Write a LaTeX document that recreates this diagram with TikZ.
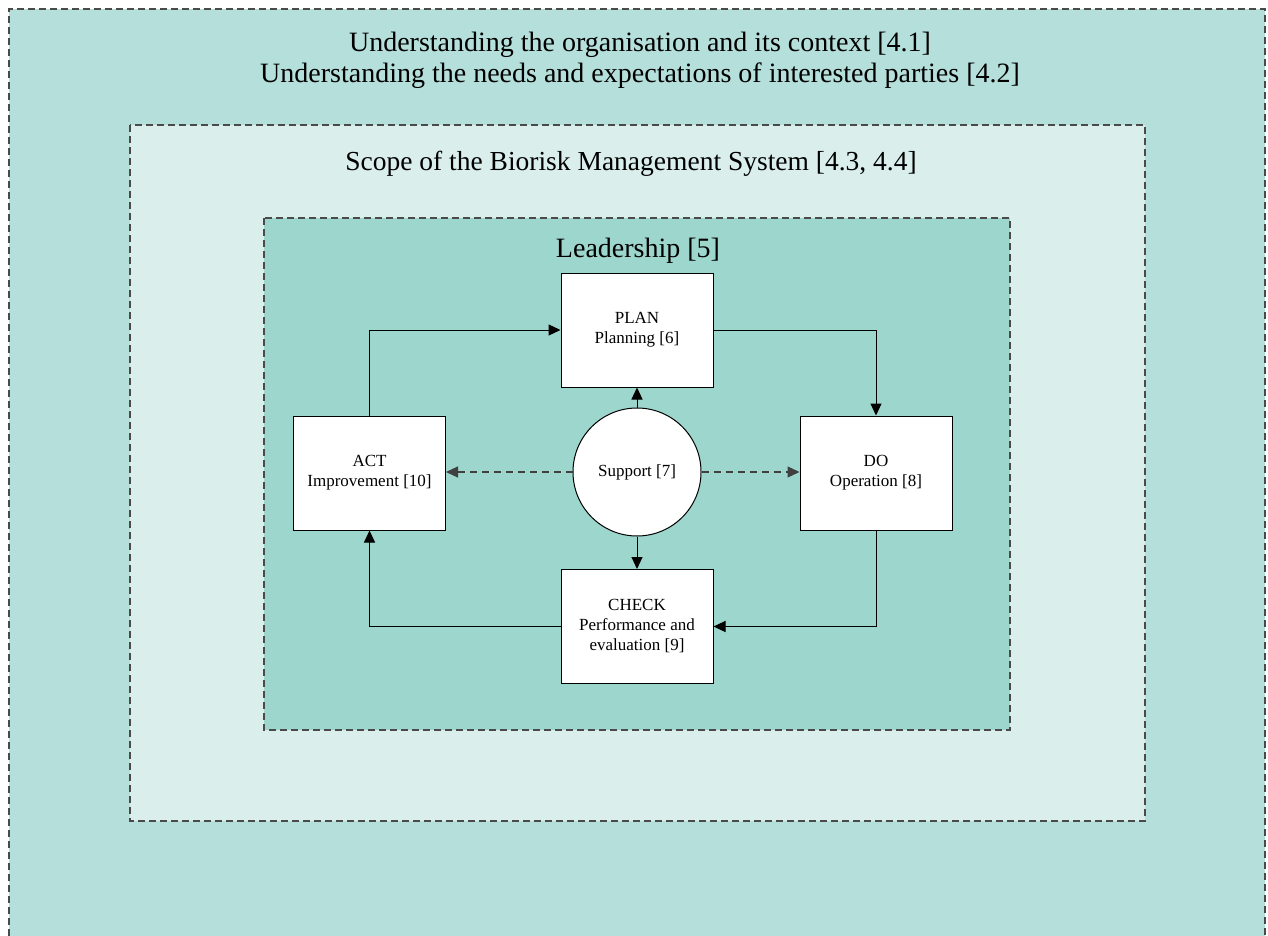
\documentclass[tikz,border=0pt]{standalone}
\usepackage{fontspec}
\setmainfont{Liberation Serif}
\usetikzlibrary{arrows.meta,calc}
\definecolor{outerfill}{HTML}{B4DFDB}
\definecolor{midfill}{HTML}{DAEFEC}
\definecolor{innerfill}{HTML}{9DD6CD}
\definecolor{bordergrey}{HTML}{4A4A4A}
\begin{document}
\begin{tikzpicture}[x=1pt,y=-1pt,
  frame/.style={draw=bordergrey, dash pattern=on 7pt off 4pt, line width=1.3pt},
  stepbox/.style={draw=black, fill=white, line width=1pt, minimum width=152pt, minimum height=114pt, align=center, font=\fontsize{17}{20}\selectfont},
  flow/.style={draw=black, line width=1pt, -{Triangle[length=12pt,width=11pt]}},
  dflow/.style={draw=black!75, line width=1.3pt, dash pattern=on 7pt off 5pt, -{Triangle[length=12pt,width=11pt]}}
]
\useasboundingbox (0,0) rectangle (1268,936);
% frames
\fill[outerfill] (9,9) rectangle (1265,936);
\draw[frame] (9,936) -- (9,9) -- (1265,9) -- (1265,936);
\draw[frame, fill=midfill] (130,125) rectangle (1145,821);
\draw[frame, fill=innerfill] (264,218) rectangle (1010,730);
% titles
\node[font=\fontsize{28}{31}\selectfont, align=center] (title) at (640,60) {Understanding the organisation and its context [4.1]\\Understanding the needs and expectations of interested parties [4.2]};
\node[font=\fontsize{27.5}{31}\selectfont] (scope) at (631,164) {Scope of the Biorisk Management System [4.3, 4.4]};
\node[font=\fontsize{28}{31}\selectfont] (lead) at (638,251) {Leadership [5]};
% boxes
\node[stepbox] (plan) at (637,330) {PLAN\\Planning [6]};
\node[stepbox] (do) at (876,473) {DO\\Operation [8]};
\node[stepbox] (act) at (369.5,473) {ACT\\Improvement [10]};
\node[stepbox] (check) at (637,626.5) {CHECK\\Performance and\\evaluation [9]};
\node[circle, draw=black, fill=white, line width=1pt, minimum size=128pt, inner sep=0pt, font=\fontsize{17}{20}\selectfont] (sup) at (637,472) {Support [7]};
% cycle
\draw[flow] (act.north) |- (plan.west);
\draw[flow] (plan.east) -| (do.north);
\draw[flow] (do.south) |- (check.east);
\draw[flow] (check.west) -| (act.south);
% support
\draw[flow] (sup.north) -- (plan.south);
\draw[flow] (sup.south) -- (check.north);
\draw[dflow] (sup.west) -- (sup.west -| act.east);
\draw[dflow] (sup.east) -- (sup.east -| do.west);
\end{tikzpicture}
\end{document}
